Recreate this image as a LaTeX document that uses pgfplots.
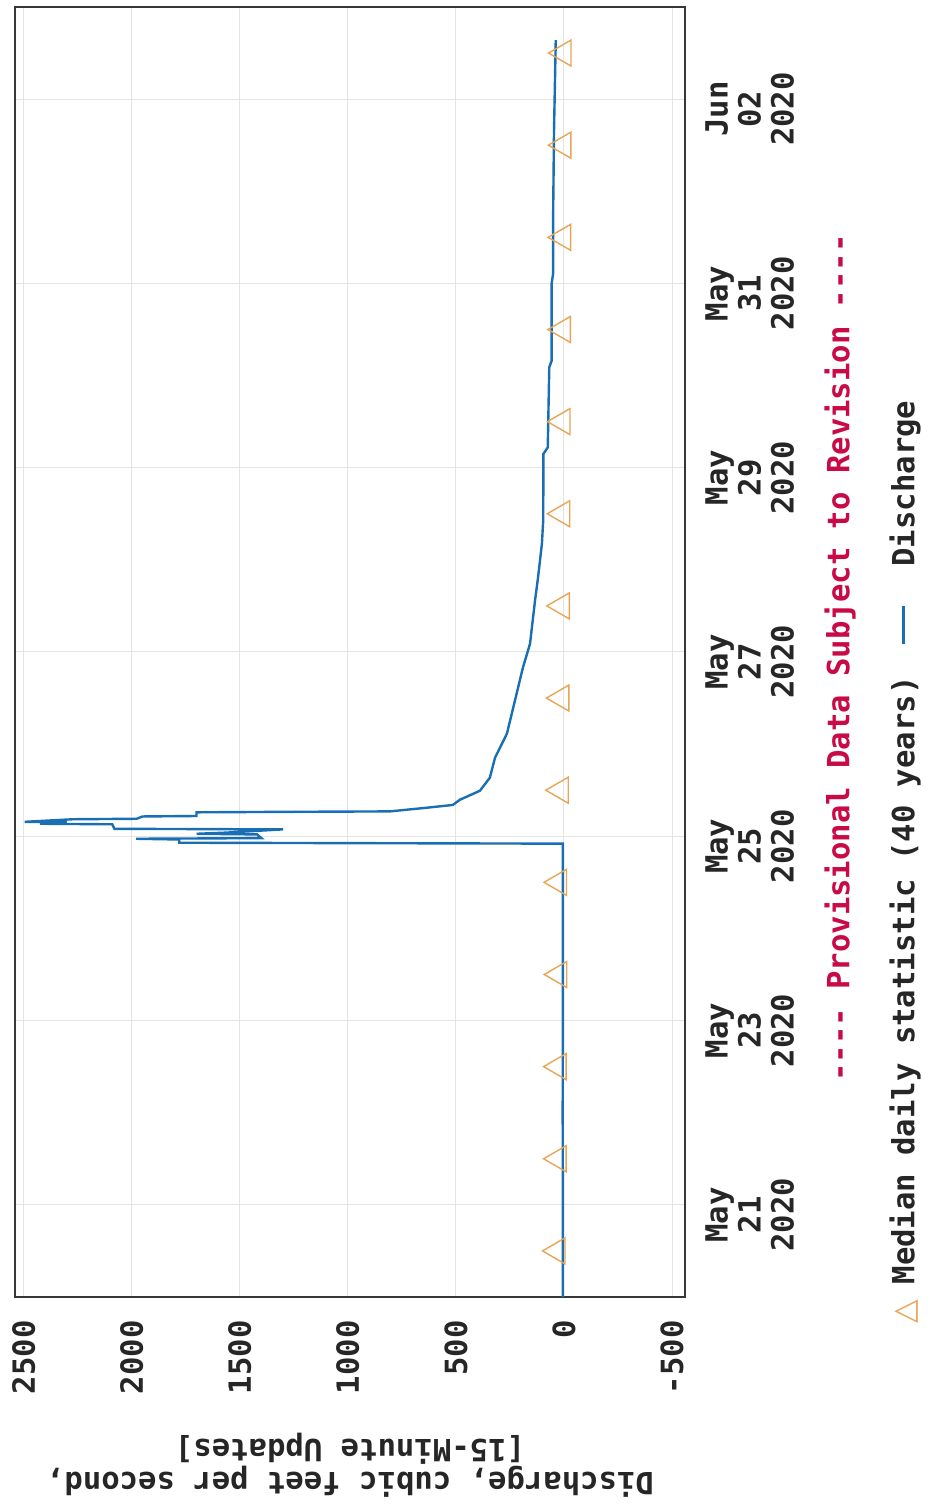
\documentclass[border=0pt]{standalone}
\usepackage{pgfplots}
\pgfplotsset{compat=1.18}
\usepackage{fontspec}
\setmainfont{DejaVu Sans Mono}
\newfontfamily\symfont{DejaVu Sans}
\definecolor{qblue}{RGB}{25,110,180}
\definecolor{qorange}{RGB}{232,165,85}
\definecolor{qred}{RGB}{200,10,70}
\definecolor{qframe}{RGB}{55,55,55}
\definecolor{qgrid}{RGB}{228,228,228}
\newcommand{\lblfont}{\fontsize{15.3}{16.5}\selectfont\bfseries}
\begin{document}
\begin{tikzpicture}
\begin{axis}[
  name=ax,
  scale only axis,
  width=335pt, height=645pt,
  x dir=reverse,
  xmin=-560, xmax=2540,
  ymin=0, ymax=14,
  xtick={-500,0,500,1000,1500,2000,2500},
  xticklabels={-500,0,500,1000,1500,2000,2500},
  ytick={1,3,5,7,9,11,13},
  yticklabels={{May\\21\\2020},{May\\23\\2020},{May\\25\\2020},{May\\27\\2020},{May\\29\\2020},{May\\31\\2020},{Jun\\02\\2020}},
  yticklabel pos=right,
  grid=major,
  major grid style={qgrid, line width=0.5pt},
  major tick length=0pt,
  axis line style={qframe, line width=1.2pt},
  every tick label/.append style={font=\lblfont, text=black!85, inner sep=0pt},
  xticklabel style={rotate=90, anchor=east},
  xticklabel shift=11.5pt,
  yticklabel style={rotate=90, anchor=north, align=center, xshift=-5pt},
  yticklabel shift=10pt,
  xlabel={Discharge, cubic feet per second,\\{}[15-Minute Updates]},
  xlabel style={at={(ticklabel cs:0.5,16pt)}, anchor=south, rotate=180, align=center, font=\lblfont, text=black!85},
  clip=true,
]
\addplot[qblue, line width=1.2pt] coordinates {
(5,0) (5,1) (6,2) (5,3) (5,4) (5,4.92) (1780,4.93) (1780,4.965) (1980,4.973) (1400,4.98)
(1420,5.02) (1700,5.027) (1560,5.04) (1300,5.075) (2080,5.081) (2090,5.13) (2425,5.136)
(2300,5.15) (2495,5.157) (2270,5.185) (1977,5.19) (1950,5.215) (1700,5.22) (1700,5.26)
(1310,5.265) (806,5.27) (634,5.31) (514,5.34) (482,5.396) (421,5.46) (389,5.494)
(343,5.635) (319,5.852) (264,6.113) (227,6.471) (190,6.83) (157,7.09) (134,7.557)
(120,7.807) (102,8.176) (96,8.43) (95,9.15) (75,9.22) (68,10.09) (57,10.16) (57,11.0)
(50,11.11) (50,11.76) (46,12.66) (38,13.64)
};
\addplot[only marks, draw=qorange, mark=triangle, mark size=7.5pt,
  mark options={rotate=90, draw=qorange, line width=0.7pt, fill=none}] coordinates {
(30,0.5) (25,1.5) (25,2.5) (22,3.5) (23,4.5) (15,5.5) (12,6.5) (10,7.5) (8,8.5) (7,9.5)
(5,10.5) (4,11.5) (3,12.5) (2,13.5)
};
\end{axis}
\node[rotate=90, text=qred, font=\lblfont] at ([xshift=77.5pt,yshift=-3pt]ax.east)
  {-{}-{}-{}- Provisional Data Subject to Revision -{}-{}-{}-};
\node[rotate=90, anchor=west, font=\lblfont, text=black!85] at ([xshift=110pt,yshift=-17pt]ax.south east)
  {{\symfont\mdseries\color{qorange}△}\hspace{8pt}Median daily statistic (40 years)\hspace{16pt}{\color{qblue}\rule[0.3em]{19pt}{1.5pt}}\hspace{20pt}Discharge};
\pgfresetboundingbox
\path[use as bounding box] ([shift={(-7.5pt,-105pt)}]ax.south west) rectangle ++(465pt,753.5pt);
\end{tikzpicture}
\end{document}
